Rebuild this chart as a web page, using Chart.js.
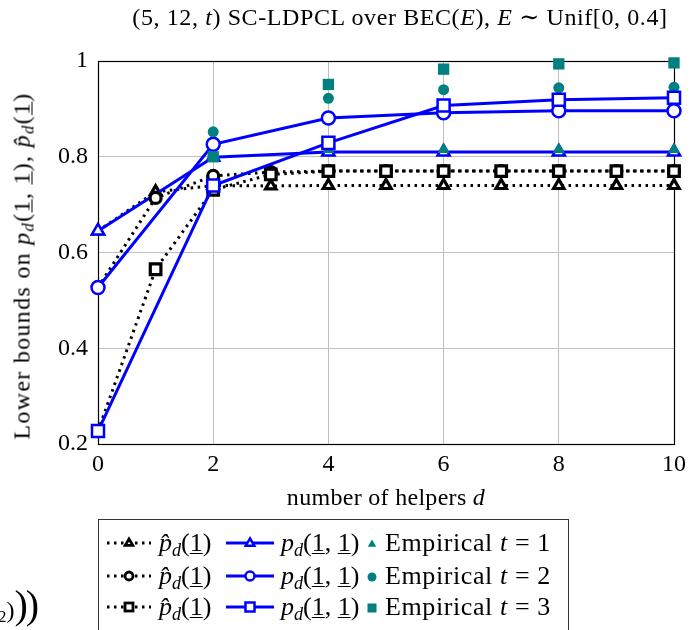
<!DOCTYPE html>
<html>
<head>
<meta charset="utf-8">
<script src="https://cdn.jsdelivr.net/npm/chart.js@4/dist/chart.umd.min.js"></script>
<style>
  html, body { margin: 0; padding: 0; background: #fff; }
  body { width: 700px; height: 630px; position: relative; overflow: hidden; font-family: "Liberation Serif", "DejaVu Serif", serif; color: #000; }
  #wrap { position: absolute; left: 0; top: 0; width: 700px; height: 630px; }
  .txt { position: absolute; white-space: nowrap; }
  #title { left: 400px; top: 17px; transform: translate(-50%, -50%); font-size: 24px; letter-spacing: 0.6px; }
  #xlab { left: 386px; top: 497px; transform: translate(-50%, -50%); font-size: 24px; letter-spacing: 0.3px; }
  #ylab { left: 22px; top: 266px; transform: translate(-50%, -50%) rotate(-90deg); font-size: 24px; letter-spacing: 1.3px; }
  i { font-style: italic; }
  sub { font-size: 0.7em; vertical-align: -0.25em; line-height: 0; }
  u { text-decoration: underline; text-underline-offset: 2px; text-decoration-thickness: 1px; }
  #legend { position: absolute; left: 98px; top: 519px; width: 471px; height: 130px; border: 1px solid #333; box-sizing: border-box; font-size: 26px; }
  .lrow { position: absolute; left: 0; height: 30px; width: 100%; }
  .lrow > * { position: absolute; top: 50%; transform: translateY(-50%); }
  #stray { position: absolute; left: -2px; top: 604px; transform: translateY(-50%); }
</style>
</head>
<body>
<div id="wrap"><canvas id="c" width="700" height="630"></canvas></div>
<div class="txt" id="title">(5, 12, <i>t</i>) SC-LDPCL over BEC(<i>E</i>), <i>E</i> ∼ Unif[0, 0.4]</div>
<div class="txt" id="xlab">number of helpers <i>d</i></div>
<div class="txt" id="ylab">Lower bounds on <i>p</i><sub><i>d</i></sub>(<u>1</u>, <u>1</u>), <i>p̂</i><sub><i>d</i></sub>(<u>1</u>)</div>
<div id="legend"></div>
<div class="txt" id="stray"><span style="font-size:17px; vertical-align:-4px">2</span><span style="font-size:24px">)</span><span style="font-size:40px; letter-spacing:-2px">))</span></div>
<script>
// ---------------- data ----------------
const helpersAll = [0, 1, 2, 3, 4, 5, 6, 7, 8, 9, 10];
const helpersEven = [0, 2, 4, 6, 8, 10];
const helpersEmp = [2, 4, 6, 8, 10];
const xTicks = [0, 2, 4, 6, 8, 10];
const yTicks = [0.2, 0.4, 0.6, 0.8, 1];

const pHatT1 = [0.645, 0.727, 0.740, 0.739, 0.740, 0.740, 0.740, 0.740, 0.740, 0.740, 0.740];
const pHatT2 = [0.527, 0.714, 0.760, 0.768, 0.770, 0.770, 0.770, 0.770, 0.770, 0.770, 0.770];
const pHatT3 = [0.227, 0.565, 0.731, 0.763, 0.770, 0.770, 0.770, 0.770, 0.770, 0.770, 0.770];

const pT1 = [0.645, 0.799, 0.810, 0.810, 0.810, 0.810];
const pT2 = [0.527, 0.826, 0.881, 0.892, 0.896, 0.896];
const pT3 = [0.227, 0.740, 0.829, 0.907, 0.919, 0.923];

const empT1 = [0.800, 0.815, 0.815, 0.815, 0.815];
const empT2 = [0.852, 0.922, 0.940, 0.944, 0.945];
const empT3 = [0.800, 0.951, 0.983, 0.994, 0.996];

const BLUE = '#0000ff';
const TEAL = '#008080';
const BLACK = '#000000';

function pts(xs, ys) { return xs.map((x, i) => ({ x: x, y: ys[i] })); }

const shapeOf = { 1: 'triangle', 2: 'circle', 3: 'rect' };
const hatR = { 1: 6, 2: 5.5, 3: 7.5 };
const blueR = { 1: 7, 2: 6.5, 3: 8.5 };
const empR = { 1: 7, 2: 5.5, 3: 8 };

const series = [
  { kind: 'hat', t: 1, xs: helpersAll, ys: pHatT1 },
  { kind: 'p', t: 1, xs: helpersEven, ys: pT1 },
  { kind: 'emp', t: 1, xs: helpersEmp, ys: empT1 },
  { kind: 'hat', t: 2, xs: helpersAll, ys: pHatT2 },
  { kind: 'p', t: 2, xs: helpersEven, ys: pT2 },
  { kind: 'emp', t: 2, xs: helpersEmp, ys: empT2 },
  { kind: 'hat', t: 3, xs: helpersAll, ys: pHatT3 },
  { kind: 'p', t: 3, xs: helpersEven, ys: pT3 },
  { kind: 'emp', t: 3, xs: helpersEmp, ys: empT3 },
];

const datasets = series.map((s, i) => {
  const base = { data: pts(s.xs, s.ys), order: 20 - i, clip: false, pointStyle: shapeOf[s.t], pointRotation: 0 };
  if (s.kind === 'hat') {
    return Object.assign(base, {
      borderColor: BLACK, borderWidth: 3, borderDash: [2.5, 4.5], borderCapStyle: 'butt',
      pointRadius: hatR[s.t], pointBorderWidth: 3.2, pointBorderColor: BLACK, pointBackgroundColor: '#ffffff',
      showLine: true, tension: 0
    });
  } else if (s.kind === 'p') {
    return Object.assign(base, {
      borderColor: BLUE, borderWidth: 3, borderDash: [],
      pointRadius: blueR[s.t], pointBorderWidth: 2.5, pointBorderColor: BLUE, pointBackgroundColor: '#ffffff',
      showLine: true, tension: 0
    });
  } else {
    return Object.assign(base, {
      borderColor: TEAL, borderWidth: 0, showLine: false,
      pointRadius: empR[s.t], pointBorderWidth: 0, pointBorderColor: TEAL, pointBackgroundColor: TEAL
    });
  }
});

const framePlugin = {
  id: 'frame',
  beforeDatasetsDraw(chart) {
    const a = chart.chartArea, ctx = chart.ctx;
    ctx.save();
    ctx.strokeStyle = '#000';
    ctx.lineWidth = 1.2;
    ctx.strokeRect(Math.round(a.left) + 0.5, Math.round(a.top) + 0.5, Math.round(a.right - a.left), Math.round(a.bottom - a.top));
    ctx.restore();
  }
};

const tickFont = { family: '"Liberation Serif", serif', size: 24 };

new Chart(document.getElementById('c'), {
  type: 'line',
  data: { datasets: datasets },
  plugins: [framePlugin],
  options: {
    responsive: false,
    animation: false,
    events: [],
    layout: { padding: { top: 61, right: 26, bottom: 156, left: 0 } },
    plugins: { legend: { display: false }, title: { display: false }, tooltip: { enabled: false } },
    scales: {
      x: {
        type: 'linear', min: 0, max: 10,
        afterFit(s) { s.height = 30; },
        afterBuildTicks(s) { s.ticks = xTicks.map(v => ({ value: v })); },
        grid: { color: '#bfbfbf', lineWidth: 1, drawTicks: false },
        border: { display: false },
        ticks: { font: tickFont, color: '#000', padding: 6, maxRotation: 0 }
      },
      y: {
        type: 'linear', min: 0.2, max: 1,
        afterFit(s) { s.width = 98; },
        afterBuildTicks(s) { s.ticks = yTicks.map(v => ({ value: v })); },
        grid: { color: '#bfbfbf', lineWidth: 1, drawTicks: false },
        border: { display: false },
        ticks: { font: tickFont, color: '#000', padding: 10, callback: v => String(Math.round(v * 10) / 10) }
      }
    }
  }
});

// ---------------- HTML legend ----------------
function markerSVG(shape, cx, cy, r, stroke, fill, sw) {
  if (shape === 'circle') return `<circle cx="${cx}" cy="${cy}" r="${r}" stroke="${stroke}" stroke-width="${sw}" fill="${fill}"/>`;
  if (shape === 'rect') return `<rect x="${cx - r}" y="${cy - r}" width="${2 * r}" height="${2 * r}" stroke="${stroke}" stroke-width="${sw}" fill="${fill}"/>`;
  return `<polygon points="${cx},${cy - r} ${cx + r * 0.95},${cy + r * 0.6} ${cx - r * 0.95},${cy + r * 0.6}" stroke="${stroke}" stroke-width="${sw}" fill="${fill}"/>`;
}
const legendRows = [1, 2, 3];
const rowTops = [8, 41, 72];
const leg = document.getElementById('legend');
legendRows.forEach((t, k) => {
  const sh = shapeOf[t];
  const row = document.createElement('div');
  row.className = 'lrow';
  row.style.top = rowTops[k] + 'px';
  row.innerHTML =
    `<svg style="left:6px" width="48" height="20"><line x1="2" y1="10" x2="46" y2="10" stroke="#000" stroke-width="3" stroke-dasharray="2.5 4.5"/>${markerSVG(sh, 24, 10, 4, '#000', '#fff', 2.8)}</svg>` +
    `<span style="left:60px"><i>p̂</i><sub><i>d</i></sub>(<u>1</u>)</span>` +
    `<svg style="left:127px" width="48" height="20"><line x1="0" y1="10" x2="48" y2="10" stroke="${BLUE}" stroke-width="3"/>${markerSVG(sh, 24, 10, 4.5, BLUE, '#fff', 2.5)}</svg>` +
    `<span style="left:182px"><i>p</i><sub><i>d</i></sub>(<u>1</u>, <u>1</u>)</span>` +
    `<svg style="left:265px" width="16" height="20">${markerSVG(sh, 8, 11, 4.5, TEAL, TEAL, 0)}</svg>` +
    `<span style="left:286px; letter-spacing:0.6px">Empirical <i>t</i> = ${t}</span>`;
  leg.appendChild(row);
});
</script>
</body>
</html>
